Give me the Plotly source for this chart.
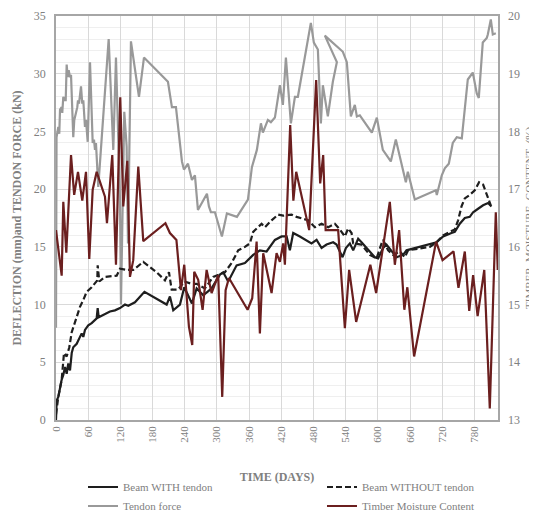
import plotly.graph_objects as go

# ---------------- data ----------------
tendon_days = [0, 1, 4.3, 6.1, 7.5, 10.6, 11.7, 13.6, 16.2, 18.1,
               19.9, 21.8, 23.7, 26.1, 28.0, 30.4, 32.2, 34.1, 37.3, 39.7,
               41.0, 42.9, 46.6, 49.0, 50.9, 52.2, 54.0, 55.9, 59.1, 63.4,
               68.4, 70.8, 72.7, 74.5, 75.8, 78.8, 98.2, 106.8, 111.8, 114.6,
               119.3, 121.1, 127.3, 131.7, 134.2, 139.7, 154.7, 164.0, 208.7, 216.1,
               223.6, 234.8, 238.5, 246.0, 253.4, 259.0, 264.6, 281.4, 285.1, 288.8,
               296.3, 309.3, 318.6, 337.3, 357.8, 365.2, 374.5, 382.0, 385.7, 395.0,
               400.6, 408.1, 417.4, 423.0, 428.6, 437.9, 445.4, 450.9, 475.1, 480.7,
               488.2, 493.8, 497.5, 506.8, 516.1, 523.6, 501.2, 534.8, 542.2, 549.7,
               557.1, 560.9, 566.4, 588.8, 598.1, 609.3, 624.2, 633.5, 652.2, 655.9,
               668.9, 708.1, 709.9, 719.2, 724.8, 732.3, 739.7, 747.2, 756.5, 767.7,
               777.0, 784.4, 788.2, 795.6, 803.1, 805.0, 810.6, 814.3, 819.9]
tendon_kn = [8.0, 24.5, 25.4, 24.8, 26.9, 27.1, 26.6, 28.0, 27.7, 27.7,
             30.8, 29.7, 30.3, 29.7, 29.9, 26.3, 24.5, 26.0, 26.6, 27.1,
             27.7, 27.4, 28.9, 27.4, 27.7, 26.9, 25.4, 26.0, 24.1, 31.0,
             24.0, 24.3, 23.4, 24.0, 22.3, 20.2, 33.0, 23.4, 31.4, 26.9,
             19.1, 10.0, 26.7, 23.7, 15.3, 32.8, 28.0, 31.4, 29.3, 27.1,
             27.1, 22.4, 21.7, 22.2, 20.8, 21.2, 18.2, 19.6, 18.5, 18.0,
             18.0, 15.9, 17.9, 17.6, 19.1, 21.9, 23.4, 25.7, 24.9, 26.0,
             25.8, 26.2, 29.0, 27.3, 31.4, 25.7, 28.0, 28.0, 34.4, 32.7,
             32.1, 25.7, 29.0, 26.3, 29.3, 31.0, 33.3, 31.9, 31.0, 26.3,
             27.3, 26.3, 26.4, 24.9, 26.2, 23.4, 22.4, 24.3, 20.6, 21.5,
             19.1, 19.9, 19.5, 21.2, 21.8, 22.2, 24.0, 24.5, 24.4, 29.5,
             30.1, 28.3, 27.9, 32.7, 33.1, 33.4, 34.7, 33.4, 33.5]

with_days = [0, 1.3, 4.3, 7.5, 10.6, 13.6, 16.8, 19.9, 22.9, 26.1,
             29.3, 32.2, 38.6, 44.7, 47.9, 50.9, 54.0, 60.2, 66.5, 75.8,
             77.7, 79.6, 88.1, 100.6, 109.9, 119.3, 128.6, 134.7, 147.2, 164.9,
             206.3, 212.4, 218.6, 231.1, 239.1, 253.4, 262.2, 274.5, 290.1, 305.6,
             311.7, 321.0, 336.7, 352.2, 367.6, 380.1, 392.6, 408.1, 420.6, 429.9,
             436.0, 442.2, 454.6, 476.4, 485.8, 495.1, 504.4, 516.7, 523.0, 534.2,
             540.4, 547.8, 554.0, 563.3, 569.6, 594.4, 600.5, 609.9, 616.2, 634.8,
             647.1, 653.5, 709.4, 721.7, 737.3, 743.5, 752.8, 762.1, 771.4, 777.6,
             786.9, 796.2, 805.5, 811.8]
with_mm = [0, 1.7, 2.0, 2.9, 3.5, 3.9, 4.6, 4.0, 4.9, 4.3,
           5.8, 6.3, 6.6, 7.2, 7.5, 7.2, 7.8, 8.2, 8.4, 8.8,
           9.7, 8.9, 9.1, 9.4, 9.5, 9.7, 10.0, 9.9, 10.2, 11.1,
           10.0, 10.7, 9.5, 10.0, 11.5, 10.1, 11.4, 10.8, 11.4, 12.6,
           12.8, 12.0, 13.4, 13.6, 14.3, 14.7, 14.6, 15.6, 15.9, 15.9,
           14.7, 16.2, 15.9, 15.3, 15.6, 14.9, 15.2, 15.4, 15.2, 14.1,
           14.9, 15.3, 14.7, 15.7, 15.4, 14.1, 14.0, 14.9, 15.2, 14.1,
           14.3, 14.7, 15.4, 15.9, 16.2, 16.3, 17.0, 17.5, 17.6, 18.0,
           18.3, 18.6, 18.8, 18.5]

without_days = [0, 4.3, 10.6, 14.9, 19.9, 24.8, 29.3, 33.5, 38.6, 44.7,
                50.9, 57.2, 66.5, 72.7, 77.0, 77.7, 80.7, 91.3, 113.1, 119.3,
                131.7, 144.0, 162.7, 187.6, 203.1, 210.6, 215.6, 227.9, 239.1, 252.8,
                262.2, 277.6, 293.1, 314.9, 327.4, 339.7, 352.2, 361.5, 367.6, 383.3,
                389.4, 401.9, 414.2, 423.5, 439.2, 448.5, 470.1, 482.6, 495.1, 507.4,
                519.9, 529.2, 538.5, 544.7, 551.0, 554.0, 569.6, 585.1, 597.6, 606.9,
                609.9, 619.2, 628.5, 641.0, 650.3, 656.4, 696.9, 709.4, 721.7, 734.2,
                743.5, 749.6, 756.0, 762.1, 771.4, 780.7, 788.7, 796.2, 803.1, 810.5]
without_mm = [0.5, 2.0, 3.5, 5.8, 5.5, 6.3, 7.6, 8.2, 8.8, 9.8,
              10.4, 11.1, 11.5, 11.8, 12.1, 13.4, 12.0, 12.4, 12.5, 13.1,
              13.0, 13.0, 13.7, 12.8, 12.1, 12.8, 11.3, 11.3, 12.0, 11.8,
              11.8, 11.4, 12.4, 12.8, 13.6, 14.7, 15.0, 15.3, 16.3, 17.0,
              16.7, 17.3, 17.8, 17.7, 17.8, 17.6, 17.3, 16.7, 17.0, 16.7,
              17.0, 16.5, 15.9, 16.6, 16.2, 15.3, 15.2, 14.3, 14.0, 15.3,
              15.6, 14.7, 14.3, 14.6, 14.1, 14.7, 15.0, 15.4, 16.0, 16.3,
              16.5, 17.3, 18.5, 19.2, 19.5, 19.9, 20.6, 20.4, 19.6, 18.6]

moist_days = [0, 10.6, 13.6, 19.2, 28.0, 33.9, 41.0, 49.0, 55.9, 62.0,
              68.4, 75.8, 91.3, 95.0, 104.9, 111.8, 119.8, 125.4, 132.9, 137.9,
              144.0, 153.4, 162.7, 204.0, 212.4, 224.5, 232.9, 239.1, 247.8, 254.0,
              257.7, 265.1, 273.3, 280.8, 290.1, 302.4, 309.9, 316.2, 322.4, 357.2,
              365.8, 374.0, 380.1, 386.3, 401.9, 411.2, 417.4, 423.5, 426.7, 436.6,
              442.5, 447.8, 472.0, 485.0, 492.5, 498.1, 502.7, 526.0, 538.5, 546.5,
              559.6, 586.0, 596.8, 622.3, 631.7, 639.7, 649.4, 655.0, 667.6, 708.6,
              720.6, 741.1, 750.3, 762.1, 770.4, 777.6, 786.0, 798.4, 808.7, 819.9, 823.5]
moist_pct = [16.29, 15.50, 16.78, 15.90, 17.59, 16.90, 17.30, 16.80, 17.30, 15.79,
             16.99, 17.30, 16.87, 16.41, 17.59, 15.69, 18.59, 16.70, 17.49, 15.48,
             15.77, 17.39, 16.10, 16.41, 16.24, 16.12, 15.25, 15.69, 14.62, 14.30,
             15.57, 15.43, 14.91, 15.60, 15.20, 15.51, 13.40, 15.25, 15.46, 14.91,
             15.11, 16.09, 14.50, 15.89, 15.20, 15.89, 15.74, 16.06, 15.69, 18.11,
             16.80, 17.30, 16.29, 18.89, 17.10, 17.59, 16.29, 16.29, 14.59, 15.60,
             14.70, 15.69, 15.20, 16.78, 15.69, 16.29, 14.91, 15.30, 14.10, 16.09,
             15.77, 15.92, 15.29, 15.92, 14.89, 15.51, 14.80, 15.60, 13.20, 16.60, 15.60]

x_ticks = [0, 60, 120, 180, 240, 300, 360, 420, 480, 540, 600, 660, 720, 780]
left_ticks = [0, 5, 10, 15, 20, 25, 30, 35]
right_ticks = [13, 14, 15, 16, 17, 18, 19, 20]

# ---------------- styling ----------------
FONT = "Times New Roman, Liberation Serif, serif"
GREY_TXT = "#808080"
GRID = "#d9d9d9"
MINOR = "#efefef"
AXLINE = "#a6a6a6"

fig = go.Figure()
fig.add_trace(go.Scatter(x=tendon_days, y=tendon_kn, name="Tendon force", mode="lines",
                         line=dict(color="#999999", width=2.2), legend="legend", legendrank=2))
fig.add_trace(go.Scatter(x=with_days, y=with_mm, name="Beam WITH tendon", mode="lines",
                         line=dict(color="#1e1e1e", width=2.2), legend="legend", legendrank=1))
fig.add_trace(go.Scatter(x=without_days, y=without_mm, name="Beam WITHOUT tendon", mode="lines",
                         line=dict(color="#1e1e1e", width=2.2, dash="6px,3px"), legend="legend2", legendrank=1))
fig.add_trace(go.Scatter(x=moist_days, y=moist_pct, name="Timber Moisture Content", mode="lines",
                         line=dict(color="#6b1f1f", width=2.2), yaxis="y2", legend="legend2", legendrank=2))

LEG_Y = -0.1300

fig.update_layout(
    width=529, height=504,
    margin=dict(l=48, r=39, t=8, b=92, autoexpand=False),
    paper_bgcolor="white", plot_bgcolor="white",
    font=dict(family=FONT, color=GREY_TXT, size=12),
    xaxis=dict(range=[0, 824], tickmode="array", tickvals=x_ticks, ticktext=[str(t) for t in x_ticks],
               tickangle=-90, tickfont=dict(size=11, color=GREY_TXT), ticks="",
               showgrid=True, gridcolor=GRID, gridwidth=1.2, zeroline=False,
               showline=True, linecolor=AXLINE, linewidth=1.6, mirror=True,
               title=dict(text="<b>TIME (DAYS)</b>", font=dict(size=12, color=GREY_TXT), standoff=31),
               automargin=False),
    yaxis=dict(range=[0, 35], tickmode="array", tickvals=left_ticks, ticks="",
               tickfont=dict(size=12, color=GREY_TXT), ticklabelstandoff=6,
               showgrid=True, gridcolor=GRID, gridwidth=1.2, zeroline=False,
               minor=dict(dtick=1, tick0=0, showgrid=True, gridcolor=MINOR, gridwidth=1),
               showline=True, linecolor=AXLINE, linewidth=1.6, mirror=True,
               title=dict(text="<b>DEFLECTION (mm)and TENDON FORCE (kN)</b>",
                          font=dict(size=12, color=GREY_TXT), standoff=10),
               automargin=False),
    yaxis2=dict(range=[13, 20], overlaying="y", side="right", tickmode="array", tickvals=right_ticks,
                ticks="", tickfont=dict(size=12, color=GREY_TXT), ticklabelstandoff=9,
                showgrid=False, zeroline=False, showline=False, automargin=False),
    annotations=[dict(text="TIMBER\u00a0\u00a0MOISTURE\u00a0\u00a0CONTENT\u00a0\u00a0(%)",
                      xref="paper", yref="paper", x=1.07, y=0.5, xanchor="center", yanchor="middle",
                      textangle=-90, showarrow=False, font=dict(size=11, color=GREY_TXT))],
    legend=dict(x=0.0611, y=LEG_Y, xanchor="left", yanchor="top", orientation="v",
                font=dict(size=11, color=GREY_TXT), bgcolor="rgba(0,0,0,0)", traceorder="normal"),
    legend2=dict(x=0.6018, y=LEG_Y, xanchor="left", yanchor="top", orientation="v",
                 font=dict(size=11, color=GREY_TXT), bgcolor="rgba(0,0,0,0)", traceorder="normal"),
    showlegend=True,
)

fig.write_html("out.html")
